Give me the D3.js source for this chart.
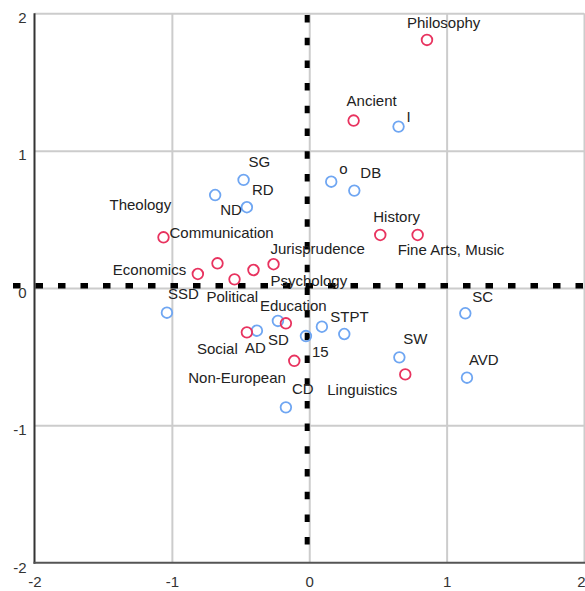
<!DOCTYPE html>
<html>
<head>
<meta charset="utf-8">
<script src="https://cdn.jsdelivr.net/npm/d3@7/dist/d3.min.js"></script>
<style>
  html, body { margin: 0; padding: 0; background: #fff; }
  svg { display: block; }
  text { font-family: "Liberation Sans", Arial, sans-serif; }
</style>
</head>
<body>
<svg id="chart" width="585" height="591"></svg>
<script>
// ---- data ----
const xTicks = [-2, -1, 0, 1, 2];
const yTicks = [-2, -1, 0, 1, 2];

const redLabels = ["Philosophy", "Ancient", "History", "Fine Arts, Music", "Communication",
  "Economics", "Theology", "Political", "Psychology", "Jurisprudence",
  "Education", "Social", "Non-European", "Linguistics"];
const redX = [0.857, 0.323, 0.517, 0.789, -1.061, -0.811, -0.668, -0.544, -0.406, -0.260, -0.170, -0.454, -0.109, 0.699];
const redY = [1.806, 1.219, 0.386, 0.386, 0.369, 0.102, 0.180, 0.063, 0.131, 0.173, -0.257, -0.323, -0.530, -0.629];

const blueLabels = ["I", "o", "DB", "SG", "RD", "ND", "SSD", "AD", "SD", "15", "", "STPT", "CD", "SW", "SC", "AVD"];
const blueX = [0.650, 0.160, 0.328, -0.478, -0.454, -0.685, -1.036, -0.381, -0.228, -0.024, 0.092, 0.255, -0.170, 0.656, 1.136, 1.148];
const blueY = [1.175, 0.774, 0.709, 0.787, 0.588, 0.677, -0.180, -0.311, -0.240, -0.350, -0.282, -0.335, -0.869, -0.505, -0.184, -0.653];

const refX = -0.015;
const refY = 0.017;

// ---- layout (label offsets in px from each point, left edge / vertical centre) ----
const redLabelOffsets = [[-20, -17], [-7, -20], [-7, -18], [-20, 15], [6, -5],
  [-85, -4], [-108, -59], [-28, 17], [17, 11], [-3, -16],
  [-26, -18], [-50, 16], [-106, 17], [-78, 15]];
const blueLabelOffsets = [[8, -10], [8, -13], [6, -18], [5, -18], [5, -18], [5, 15], [1, -19],
  [-12, 17], [-10, 19], [6, 16], [0, 0], [-14, -17], [6, -19], [4, -19], [7, -17], [2, -18]];

const svg = d3.select("#chart");
const W = 585;
const x = d3.scaleLinear().domain([-2, 2]).range([34.5, 584]);
const y = d3.scaleLinear().domain([-2, 2]).range([562.7, 13.3]);

const gridColor = "#cccccc";

// gridlines
const gx = svg.append("g").attr("transform", `translate(0,${y(-2)})`)
  .call(d3.axisBottom(x).tickValues(xTicks.filter(t => t > -2)).tickSize(-(y(-2) - y(2))).tickFormat(""));
gx.select(".domain").remove();
gx.selectAll(".tick line").attr("stroke", gridColor).attr("stroke-width", 2);

const gy = svg.append("g").attr("transform", `translate(${x(-2)},0)`)
  .call(d3.axisLeft(y).tickValues(yTicks.filter(t => t > -2)).tickSize(-(x(2) - x(-2))).tickFormat(""));
gy.select(".domain").remove();
gy.selectAll(".tick line").attr("stroke", gridColor).attr("stroke-width", 2);

// axis lines
svg.append("line").attr("x1", x(-2)).attr("x2", x(-2)).attr("y1", y(2)).attr("y2", y(-2) + 1)
  .attr("stroke", "#333").attr("stroke-width", 2);
svg.append("line").attr("x1", x(-2) - 1).attr("x2", x(2) + 1).attr("y1", y(-2)).attr("y2", y(-2))
  .attr("stroke", "#555").attr("stroke-width", 2);

// tick labels (plain hyphen minus, as in the original)
const fmt = d => String(d);
const ax = svg.append("g").attr("transform", `translate(0,${y(-2)})`)
  .call(d3.axisBottom(x).tickValues(xTicks).tickSize(0).tickPadding(14).tickFormat(fmt));
ax.select(".domain").remove();
ax.selectAll("text").attr("font-size", 15).attr("fill", "#333")
  .attr("font-family", "Liberation Sans, Arial, sans-serif");
// keep the right-most label inside the page
ax.selectAll("text").filter(d => d === xTicks[xTicks.length - 1])
  .attr("text-anchor", "end").attr("x", W - x(xTicks[xTicks.length - 1]));

const ay = svg.append("g").attr("transform", `translate(${x(-2)},0)`)
  .call(d3.axisLeft(y).tickValues(yTicks).tickSize(0).tickPadding(8).tickFormat(fmt));
ay.select(".domain").remove();
ay.selectAll("text").attr("font-size", 15).attr("fill", "#333")
  .attr("font-family", "Liberation Sans, Arial, sans-serif").attr("dy", "0.62em");

// reference dashed lines
svg.append("line").attr("x1", 13).attr("x2", 585).attr("y1", y(refY)).attr("y2", y(refY))
  .attr("stroke", "#000").attr("stroke-width", 5.5).attr("stroke-dasharray", "7.5 15");
svg.append("line").attr("x1", x(refX)).attr("x2", x(refX)).attr("y1", 15).attr("y2", 552)
  .attr("stroke", "#000").attr("stroke-width", 5).attr("stroke-dasharray", "7.5 15.2");

// points
const redData = redLabels.map((l, i) => ({ label: l, x: redX[i], y: redY[i], off: redLabelOffsets[i] }));
const blueData = blueLabels.map((l, i) => ({ label: l, x: blueX[i], y: blueY[i], off: blueLabelOffsets[i] }));

function drawPoints(data, color) {
  svg.append("g").selectAll("circle").data(data).join("circle")
    .attr("cx", d => x(d.x)).attr("cy", d => y(d.y)).attr("r", 5.3)
    .attr("fill", "none").attr("stroke", color).attr("stroke-width", 1.8);
}
drawPoints(blueData, "#6fa6f2");
drawPoints(redData, "#e8335f");

function drawLabels(data) {
  svg.append("g").selectAll("text").data(data.filter(d => d.label !== "")).join("text")
    .attr("x", d => x(d.x) + d.off[0]).attr("y", d => y(d.y) + d.off[1])
    .attr("dy", "0.36em")
    .attr("font-size", 15).attr("fill", "#222")
    .text(d => d.label);
}
drawLabels(blueData);
drawLabels(redData);
</script>
</body>
</html>
